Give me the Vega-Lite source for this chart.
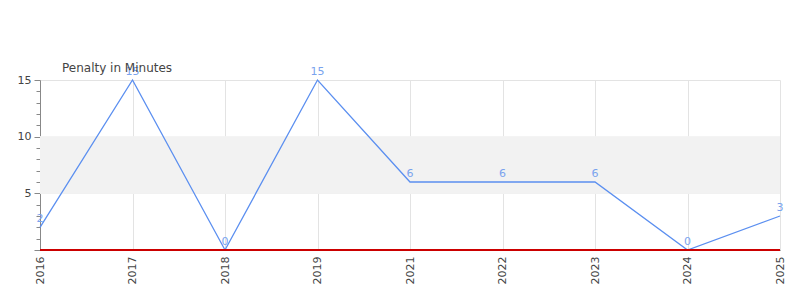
{
  "$schema": "https://vega.github.io/schema/vega-lite/v6.json",
  "width": 740,
  "height": 170,
  "autosize": {"type": "none"},
  "padding": {"left": 40, "top": 80, "right": 20, "bottom": 50},
  "background": "white",
  "config": {
    "font": "DejaVu Sans",
    "view": {"stroke": null}
  },
  "title": {
    "text": "Penalty in Minutes",
    "anchor": "start",
    "frame": "group",
    "dx": 22,
    "offset": -9,
    "fontSize": 12,
    "fontWeight": "normal",
    "color": "#444444",
    "font": "DejaVu Sans"
  },
  "data": {
    "values": [
      {"year": "2016", "pim": 2},
      {"year": "2017", "pim": 15},
      {"year": "2018", "pim": 0},
      {"year": "2019", "pim": 15},
      {"year": "2021", "pim": 6},
      {"year": "2022", "pim": 6},
      {"year": "2023", "pim": 6},
      {"year": "2024", "pim": 0},
      {"year": "2025", "pim": 3}
    ]
  },
  "encoding": {
    "x": {
      "field": "year",
      "type": "ordinal",
      "scale": {"type": "point", "padding": 0},
      "axis": {
        "title": null,
        "labelAngle": -90,
        "labelFontSize": 11,
        "labelColor": "#444444",
        "labelPadding": 6,
        "ticks": false,
        "grid": true,
        "gridColor": "#e3e3e3",
        "domainColor": "#777777",
        "domainWidth": 1
      }
    },
    "y": {
      "field": "pim",
      "type": "quantitative",
      "scale": {"domain": [0, 15], "nice": false},
      "axis": {
        "title": null,
        "values": [0,1,2,3,4,5,6,7,8,9,10,11,12,13,14,15],
        "labelExpr": "datum.value % 5 === 0 && datum.value > 0 ? datum.label : ''",
        "labelFontSize": 11,
        "labelColor": "#444444",
        "labelPadding": 3,
        "tickColor": "#888888",
        "tickSize": {"condition": {"test": "datum.value % 5 === 0", "value": 6}, "value": 4},
        "domainColor": "#888888",
        "grid": true,
        "gridColor": {"condition": {"test": "datum.value % 5 === 0 && datum.value > 0", "value": "#e3e3e3"}, "value": "transparent"}
      }
    }
  },
  "layer": [
    {
      "mark": {"type": "rect", "color": "#f2f2f2"},
      "encoding": {
        "x": null,
        "y": {"datum": 5},
        "y2": {"datum": 10}
      }
    },
    {
      "mark": {"type": "line", "color": "#5b8ff0", "strokeWidth": 1.3}
    },
    {
      "mark": {"type": "text", "color": "#7aa3ee", "fontSize": 11, "dy": -5, "baseline": "alphabetic", "align": "center"},
      "encoding": {
        "text": {"field": "pim", "type": "quantitative"}
      }
    },
    {
      "mark": {"type": "rule", "color": "#cc0000", "strokeWidth": 1},
      "encoding": {
        "x": null,
        "y": {"datum": 0}
      }
    }
  ]
}
